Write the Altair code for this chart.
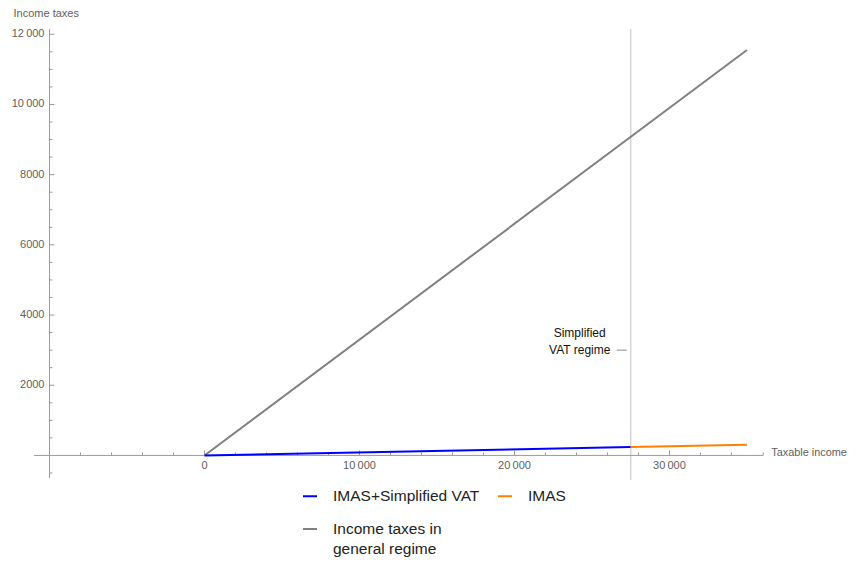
import altair as alt
import pandas as pd

# ---- data -------------------------------------------------------------
series_names = ["IMAS+Simplified VAT", "IMAS", "Income taxes in\ngeneral regime"]
series_colors = ["#0000ff", "#ff8000", "#808080"]

general_income = [0, 35000]
general_tax = [0, 11550]
imas_vat_income = [0, 27500]
imas_vat_tax = [0, 240]
imas_income = [27500, 35000]
imas_tax = [240, 305]

threshold_income = 27500
annotation_tax = 3000
annotation_text = "Simplified\nVAT regime"

x_major_ticks = [0, 10000, 20000, 30000]
x_major_labels = ["0", "10\u2009000", "20\u2009000", "30\u2009000"]
x_minor_ticks = [v for v in range(-8000, 36000, 2000) if v % 10000 != 0]
y_major_ticks = [2000, 4000, 6000, 8000, 10000, 12000]
y_major_labels = ["2000", "4000", "6000", "8000", "10\u2009000", "12\u2009000"]
y_minor_ticks = [v for v in range(-500, 12000, 500) if v % 2000 != 0]

x_domain = [-11000, 36100]
y_domain = [-700, 12150]
x_axis_span = [-11000, 36050]
y_axis_span = [-650, 12150]
y_axis_at = -10000

FONT = "Liberation Sans"
AXIS_COLOR = "#9a9a9a"
LABEL_COLOR = "#606060"

xs = alt.Scale(domain=x_domain, nice=False, zero=False)
ys = alt.Scale(domain=y_domain, nice=False, zero=False)

# ---- tables -----------------------------------------------------------
rows = []
for name, xs_, ys_ in [
    (series_names[2], general_income, general_tax),
    (series_names[0], imas_vat_income, imas_vat_tax),
    (series_names[1], imas_income, imas_tax),
]:
    for i, (a, b) in enumerate(zip(xs_, ys_)):
        rows.append({"series": name, "income": a, "tax": b, "order": i})
lines_df = pd.DataFrame(rows)

xmaj_df = pd.DataFrame({"v": x_major_ticks, "label": x_major_labels})
xmin_df = pd.DataFrame({"v": x_minor_ticks + [x_axis_span[1]]})
ymaj_df = pd.DataFrame({"v": y_major_ticks, "label": y_major_labels})
ymin_df = pd.DataFrame({"v": y_minor_ticks})

def XD(v):
    return alt.XDatum(v, type="quantitative", scale=xs)

def YD(v):
    return alt.YDatum(v, type="quantitative", scale=ys)

base = alt.Chart(pd.DataFrame({"a": [0]}))

# threshold vertical line
thresh = base.mark_rule(color="#d4d4d4", strokeWidth=1.5).encode(x=XD(threshold_income))

# axes lines
x_axis = base.mark_rule(color=AXIS_COLOR, strokeWidth=1).encode(
    x=XD(x_axis_span[0]), x2=alt.X2Datum(x_axis_span[1]), y=YD(0)
)
y_axis = base.mark_rule(color=AXIS_COLOR, strokeWidth=1).encode(
    y=YD(y_axis_span[0]), y2=alt.Y2Datum(y_axis_span[1]), x=XD(y_axis_at)
)

# ticks
x_major = alt.Chart(xmaj_df).mark_rule(color=AXIS_COLOR, y2Offset=-5).encode(
    x=alt.X("v:Q", scale=xs), y=YD(0), y2=alt.Y2Datum(0)
)
x_minor = alt.Chart(xmin_df).mark_rule(color=AXIS_COLOR, y2Offset=-3).encode(
    x=alt.X("v:Q", scale=xs), y=YD(0), y2=alt.Y2Datum(0)
)
y_major = alt.Chart(ymaj_df).mark_rule(color=AXIS_COLOR, x2Offset=5).encode(
    y=alt.Y("v:Q", scale=ys), x=XD(y_axis_at), x2=alt.X2Datum(y_axis_at)
)
y_minor = alt.Chart(ymin_df).mark_rule(color=AXIS_COLOR, x2Offset=3).encode(
    y=alt.Y("v:Q", scale=ys), x=XD(y_axis_at), x2=alt.X2Datum(y_axis_at)
)

# tick labels
x_labels = alt.Chart(xmaj_df).mark_text(
    font=FONT, fontSize=11, color=LABEL_COLOR, align="center", baseline="middle", dy=11
).encode(x=alt.X("v:Q", scale=xs), y=YD(0), text="label:N")
y_labels = alt.Chart(ymaj_df).mark_text(
    font=FONT, fontSize=11, color=LABEL_COLOR, align="right", baseline="middle", dx=-5
).encode(y=alt.Y("v:Q", scale=ys), x=XD(y_axis_at), text="label:N")

# axis titles
y_title = base.mark_text(
    font=FONT, fontSize=11, color=LABEL_COLOR, align="left", baseline="alphabetic", dx=-36, dy=-12.5
).encode(x=XD(y_axis_at), y=YD(y_axis_span[1]), text=alt.value("Income taxes"))
x_title = base.mark_text(
    font=FONT, fontSize=10.9, color=LABEL_COLOR, align="left", baseline="middle", dx=8, dy=-2
).encode(x=XD(x_axis_span[1]), y=YD(0), text=alt.value("Taxable income"))

# data lines
lines = alt.Chart(lines_df).mark_line(strokeWidth=2).encode(
    x=alt.X("income:Q", scale=xs, axis=None),
    y=alt.Y("tax:Q", scale=ys, axis=None),
    order="order:Q",
    color=alt.Color(
        "series:N",
        scale=alt.Scale(domain=series_names, range=series_colors),
        legend=alt.Legend(
            title=None,
            orient="none",
            direction="horizontal",
            legendX=268,
            legendY=459,
            columns=2,
            symbolType="stroke",
            symbolStrokeWidth=2,
            symbolSize=196,
            labelFont=FONT,
            labelFontSize=15.5,
            labelColor="#222222",
            labelOffset=15,
            labelLimit=400,
            columnPadding=14,
            rowPadding=16,
            padding=0,
            labelExpr="split(datum.label, '\\n')",
        ),
    ),
)

# annotation
ann_text = base.mark_text(
    font=FONT, fontSize=12, color="#111111", align="center", baseline="middle",
    lineBreak="\n", dx=-51, dy=-17, lineHeight=17
).encode(x=XD(threshold_income), y=YD(annotation_tax), text=alt.value(annotation_text))
ann_dash = base.mark_rule(color="#888888", strokeWidth=1, xOffset=-14, x2Offset=-4).encode(
    x=XD(threshold_income), x2=alt.X2Datum(threshold_income), y=YD(annotation_tax)
)

chart = alt.layer(
    thresh, x_axis, y_axis, x_minor, x_major, y_minor, y_major,
    x_labels, y_labels, y_title, x_title, lines, ann_text, ann_dash
).properties(
    width=730,
    height=451,
    padding={"left": 26, "top": 21, "right": 85, "bottom": 78},
    autosize=alt.AutoSizeParams(type="none"),
).configure(
    style={"guide-label": {"lineHeight": 20}}
).configure_view(stroke=None).configure_axis(disable=True)

chart.save("out.html", embed_options={"renderer": "svg", "actions": False})
